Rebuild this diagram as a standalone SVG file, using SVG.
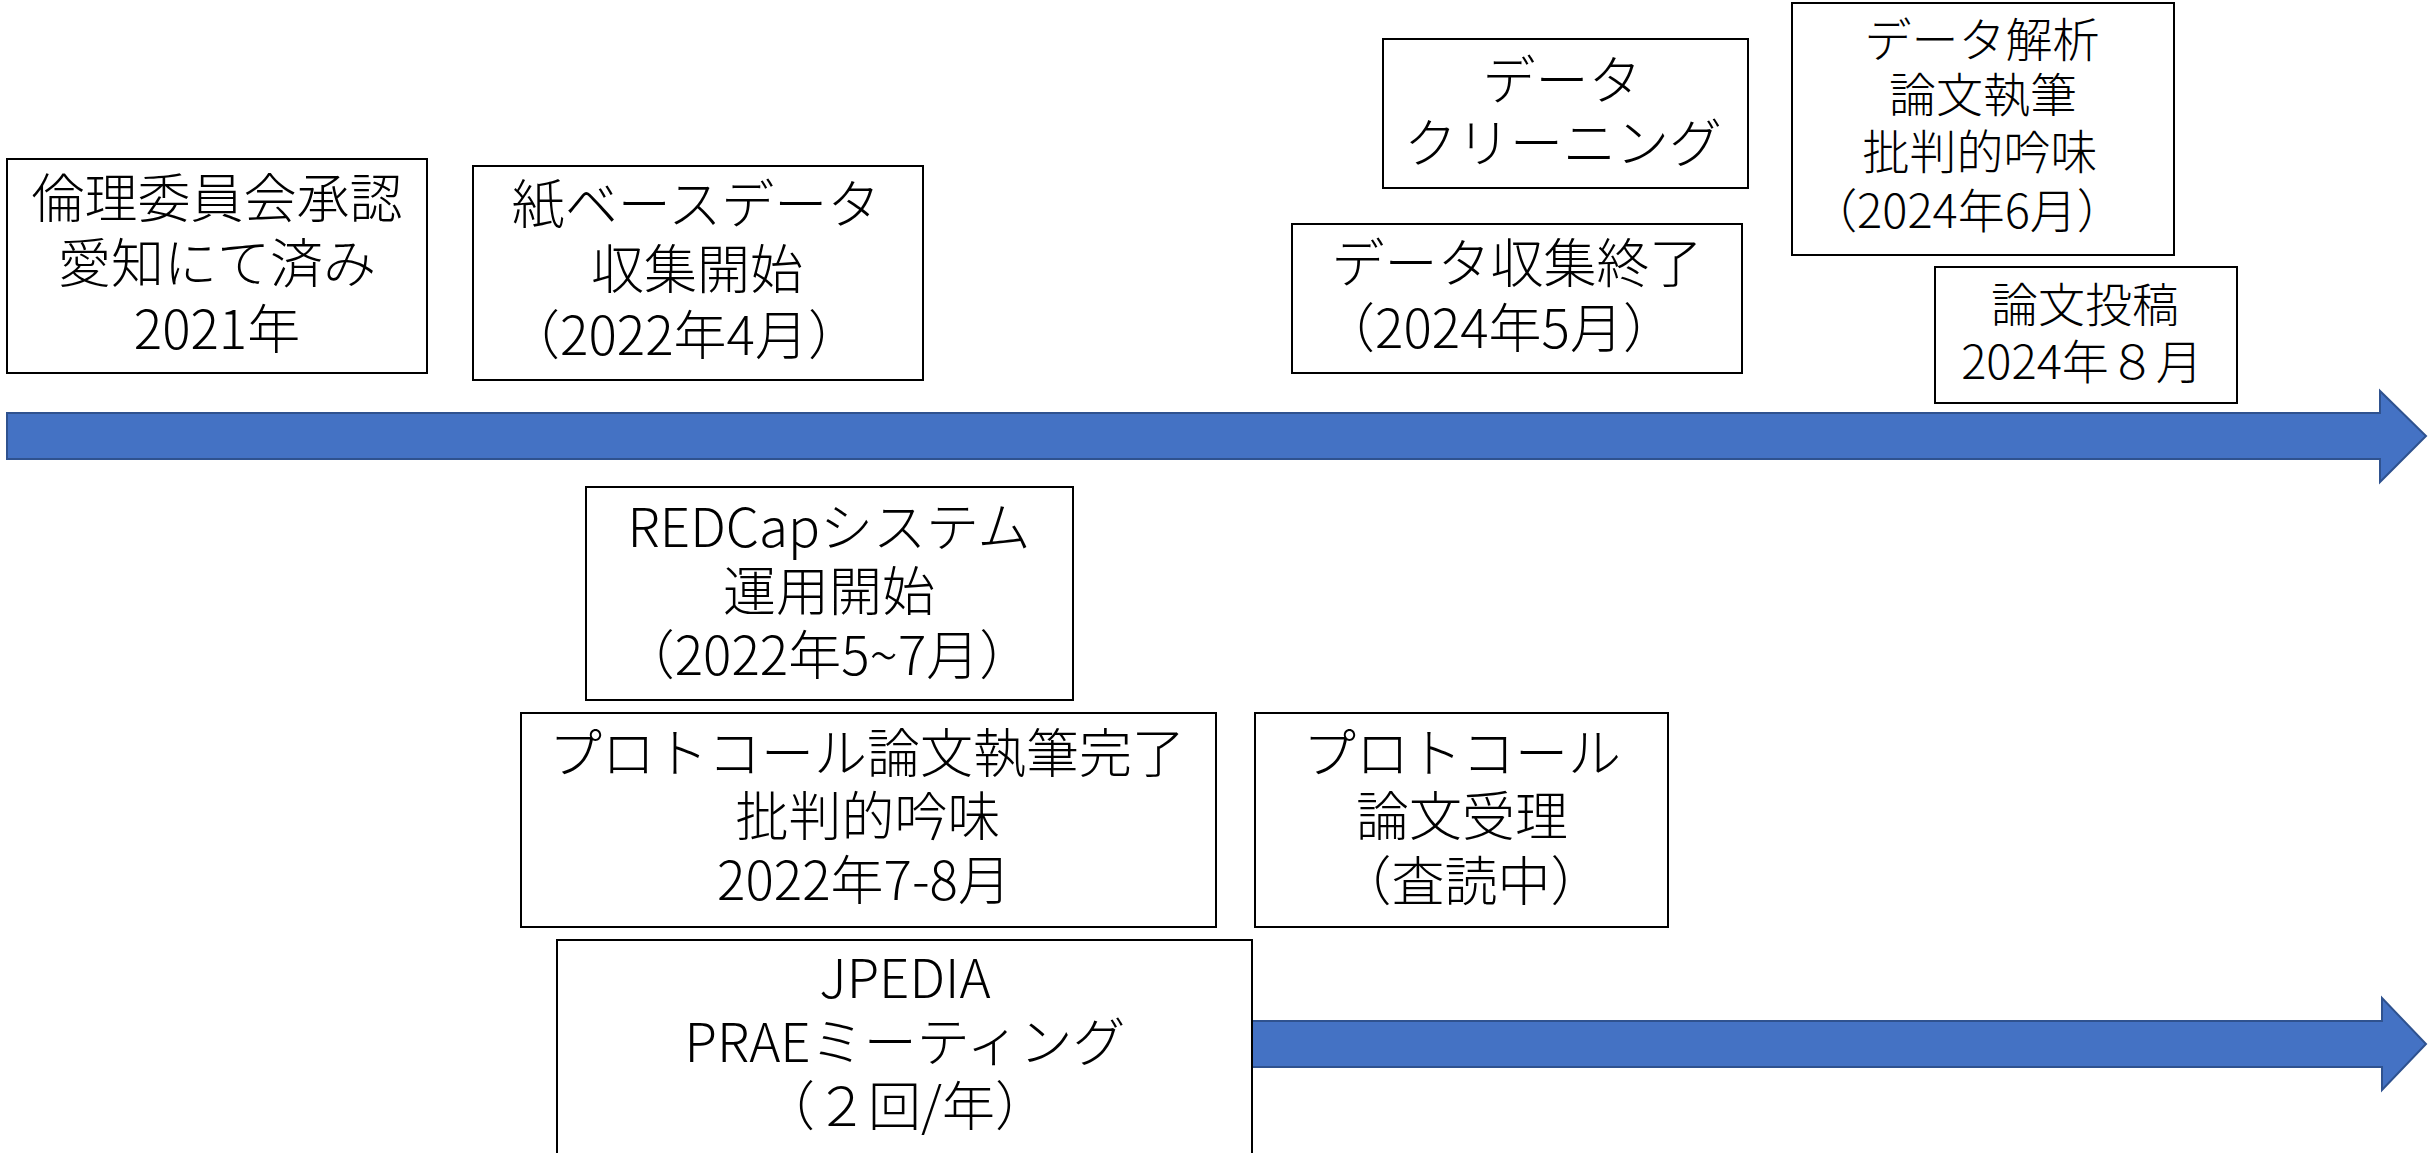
<svg xmlns="http://www.w3.org/2000/svg" width="2433" height="1153" viewBox="0 0 2433 1153">
<style>
.box{fill:#fff;stroke:#000;stroke-width:2}
.arrow{fill:#4472C4;stroke:#2F528F;stroke-width:2;stroke-linejoin:miter}
text{font-family:"Noto Sans CJK JP","Noto Sans",sans-serif;font-size:53px;fill:#000;text-anchor:middle;font-weight:300}
.s{font-size:47px}
</style>
<rect width="2433" height="1153" fill="#fff"/>
<g id="connectors">
<polygon class="arrow" points="7,413 2380,413 2380,391 2426,436 2380,482 2380,459 7,459"/>
<polygon class="arrow" points="1252,1021 2382,1021 2382,998 2426,1044 2382,1090 2382,1067 1252,1067"/>
</g>
<g id="n-ethics">
<rect class="box" x="7" y="159" width="420" height="214"/>
<text x="217" y="218">倫理委員会承認</text>
<text x="217" y="283">愛知にて済み</text>
<text x="217" y="349">2021年</text>
</g>
<g id="n-paper">
<rect class="box" x="473" y="166" width="450" height="214"/>
<text x="696" y="224">紙ベースデータ</text>
<text x="697" y="289">収集開始</text>
<text x="684" y="355">（2022年4月）</text>
</g>
<g id="n-redcap">
<rect class="box" x="586" y="487" width="487" height="213"/>
<text x="829" y="547">REDCapシステム</text>
<text x="829" y="611">運用開始</text>
<text x="827" y="675">（2022年5~7月）</text>
</g>
<g id="n-protocol-write">
<rect class="box" x="521" y="713" width="695" height="214"/>
<text x="867" y="773">プロトコール論文執筆完了</text>
<text x="868" y="836">批判的吟味</text>
<text x="864" y="900">2022年7-8月</text>
</g>
<g id="n-protocol-accept">
<rect class="box" x="1255" y="713" width="413" height="214"/>
<text x="1462" y="773">プロトコール</text>
<text x="1462" y="836">論文受理</text>
<text x="1471" y="901">（査読中）</text>
</g>
<g id="n-jpedia">
<rect class="box" x="557" y="940" width="695" height="216"/>
<text x="905" y="998">JPEDIA</text>
<text x="905" y="1062">PRAEミーティング</text>
<text x="905" y="1126">（２回/年）</text>
</g>
<g id="n-collect-end">
<rect class="box" x="1292" y="224" width="450" height="149"/>
<text x="1517" y="283">データ収集終了</text>
<text x="1499" y="348">（2024年5月）</text>
</g>
<g id="n-cleaning">
<rect class="box" x="1383" y="39" width="365" height="149"/>
<text x="1562" y="100">データ</text>
<text x="1563" y="163">クリーニング</text>
</g>
<g id="n-analysis">
<rect class="box" x="1792" y="3" width="382" height="252"/>
<text class="s" x="1982" y="57">データ解析</text>
<text class="s" x="1983" y="112">論文執筆</text>
<text class="s" x="1980" y="169">批判的吟味</text>
<text class="s" x="1967" y="228">（2024年6月）</text>
</g>
<g id="n-submit">
<rect class="box" x="1935" y="267" width="302" height="136"/>
<text class="s" x="2085" y="322">論文投稿</text>
<text class="s" x="2082" y="379">2024年８月</text>
</g>
</svg>
